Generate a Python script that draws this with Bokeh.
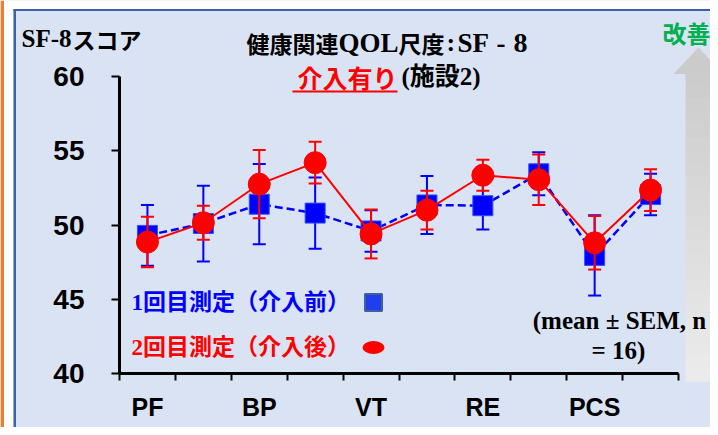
from bokeh.plotting import figure
from bokeh.models import Label, BoxAnnotation, PolyAnnotation, FixedTicker, ColumnDataSource
from bokeh.embed import file_html
from bokeh.resources import INLINE

# ---------------- data ----------------
categories = ["PF", "RP", "BP", "GH", "VT", "SF", "RE", "MH", "PCS", "MCS"]
tick_labels = ["PF", "", "BP", "", "VT", "", "RE", "", "PCS", ""]
pre_mean = [49.3, 50.1, 51.4, 50.8, 49.6, 51.35, 51.3, 53.45, 47.95, 52.05]
pre_sem = [2.05, 2.55, 2.7, 2.4, 1.4, 1.95, 1.6, 1.45, 2.7, 1.4]
post_mean = [48.85, 50.15, 52.75, 54.2, 49.4, 51.0, 53.35, 53.05, 48.8, 52.35]
post_sem = [1.7, 1.15, 2.3, 1.4, 1.65, 1.3, 1.05, 1.7, 1.8, 1.4]
y_ticks = [40, 45, 50, 55, 60]
pre_label = "1回目測定（介入前）"
post_label = "2回目測定（介入後）"

# ---------------- layout ----------------
W, H = 710, 427
# axis box (pixels inside the figure)
AL, AR, AT, AB = 119, 678, 76, 373
X0, X1, Y0, Y1 = 0.5, 10.5, 40, 60
SX = (X1 - X0) / (AR - AL)
SY = (Y1 - Y0) / (AB - AT)


def dx(px):
    return X0 + (px - AL) * SX


def dy(py):
    return Y1 - (py - AT) * SY


BG = "#DAE3F3"
BLUE = "#0000FF"
RED = "#FF0000"
SERIF = "Liberation Serif"
CJK = "Noto Sans CJK JP"
MIX = "'Liberation Serif', 'Noto Sans CJK JP'"

p = figure(width=W, height=H, x_range=(dx(0), dx(W)), y_range=(dy(H), dy(0)),
           output_backend="svg", toolbar_location=None, title=None, min_border=0)
p.background_fill_color = BG
p.border_fill_color = BG
p.outline_line_color = None
p.grid.visible = False

# axes (drawn at fixed data locations so the whole canvas is the frame)
xa = p.xaxis[0]
xa.fixed_location = Y0
xa.bounds = (X0, X1)
xa.ticker = FixedTicker(ticks=list(range(1, 11)),
                        minor_ticks=[i + 0.5 for i in range(0, 11)])
xa.major_label_overrides = {i + 1: t for i, t in enumerate(tick_labels)}
xa.major_tick_out = 0
xa.major_tick_in = 0
xa.minor_tick_out = 7
xa.minor_tick_in = 0
xa.minor_tick_line_width = 2
xa.minor_tick_line_color = "black"
xa.axis_line_width = 3
xa.axis_line_color = "black"
xa.major_label_text_font = "Liberation Sans"
xa.major_label_text_font_style = "bold"
xa.major_label_text_font_size = "25px"
xa.major_label_text_color = "black"
xa.major_label_standoff = 12

ya = p.yaxis[0]
ya.fixed_location = X0
ya.bounds = (Y0, Y1)
ya.ticker = FixedTicker(ticks=y_ticks)
ya.major_tick_out = 8
ya.major_tick_in = 0
ya.minor_tick_out = 0
ya.minor_tick_in = 0
ya.major_tick_line_width = 2
ya.major_tick_line_color = "black"
ya.axis_line_width = 3
ya.axis_line_color = "black"
ya.major_label_text_font = "Liberation Sans"
ya.major_label_text_font_style = "bold"
ya.major_label_text_font_size = "28px"
ya.major_label_text_color = "black"
ya.major_label_standoff = 27


def box(l, r, t, b, color):
    p.add_layout(BoxAnnotation(left=dx(l), right=dx(r), top=dy(t), bottom=dy(b),
                               fill_color=color, fill_alpha=1, line_alpha=0))


# page surroundings: orange strip, white margin, blue slide border
box(0, W, 0, 9, "white")
box(0, 13, 0, H, "white")
box(0, 3.5, 0, H, "#ED7D31")
box(13, 15.5, 8.5, H, "#3B62AD")
box(13, W, 8.5, 10.5, "#3B62AD")

# gray "improvement" arrow with vertical gradient
n_b = 24
top_y, bot_y = 73, 381
for i in range(n_b):
    t = i / (n_b - 1)
    g = int(round(0xCC + (0xEB - 0xCC) * t))
    col = "#%02x%02x%02x" % (g, g, g)
    y_a = top_y + (bot_y - top_y) * i / n_b
    y_b = top_y + (bot_y - top_y) * (i + 1) / n_b + 0.5
    box(685, 711, y_a, y_b, col)
p.add_layout(PolyAnnotation(xs=[dx(698), dx(673), dx(723)], ys=[dy(47), dy(73.5), dy(73.5)],
                            fill_color="#CBCBCB", fill_alpha=1, line_alpha=0))


def lab(text, px, py, size, color="black", align="left", font=MIX, style="bold"):
    p.add_layout(Label(x=dx(px), y=dy(py), text=text, text_font=font,
                       text_font_size=f"{size}px", text_font_style=style,
                       text_color=color, text_align=align, text_baseline="middle"))


# y-axis caption
lab("SF-8", 21, 38, 25, font=SERIF)
lab("スコア", 72, 38, 23, font=CJK)

# title line 1: 健康関連QOL尺度:SF-8
lab("健康関連", 246, 42, 23, font=CJK)
lab("QOL", 338, 42, 27, font=SERIF)
lab("尺度", 398, 42, 23, font=CJK)
lab(":", 446, 42, 26, font=SERIF)
lab("SF", 457, 42, 27, font=SERIF)
lab("-", 496, 42, 27, font=SERIF)
lab("8", 513, 42, 28, font=SERIF)

# title line 2: 介入有り(施設2)
lab("介入有り", 397, 76, 25, color=RED, align="right", font=CJK)
lab("(施設2)", 401, 76, 25, align="left")
box(292, 397, 90, 92, RED)
lab("改善", 662, 32, 24, color="#00B050", font=CJK)

# ---------------- data marks ----------------
x = list(range(1, len(categories) + 1))
src = ColumnDataSource(dict(
    x=x,
    pre=pre_mean, pre_lo=[m - s for m, s in zip(pre_mean, pre_sem)],
    pre_hi=[m + s for m, s in zip(pre_mean, pre_sem)],
    post=post_mean, post_lo=[m - s for m, s in zip(post_mean, post_sem)],
    post_hi=[m + s for m, s in zip(post_mean, post_sem)],
))

p.segment(x0="x", y0="pre_lo", x1="x", y1="pre_hi", source=src, line_color=BLUE, line_width=2)
p.scatter("x", "pre_lo", source=src, marker="dash", size=13, line_color=BLUE, line_width=2)
p.scatter("x", "pre_hi", source=src, marker="dash", size=13, line_color=BLUE, line_width=2)
p.line("x", "pre", source=src, line_color=BLUE, line_width=2.5, line_dash="8 4")
p.scatter("x", "pre", source=src, marker="square", size=20, fill_color=BLUE,
          line_color="#3050FF", line_width=1)

p.segment(x0="x", y0="post_lo", x1="x", y1="post_hi", source=src, line_color=RED, line_width=2)
p.scatter("x", "post_lo", source=src, marker="dash", size=13, line_color=RED, line_width=2)
p.scatter("x", "post_hi", source=src, marker="dash", size=13, line_color=RED, line_width=2)
p.line("x", "post", source=src, line_color=RED, line_width=2)
p.scatter("x", "post", source=src, marker="circle", size=22, fill_color=RED, line_color=RED)

# ---------------- legend (text then swatch) ----------------
lab(pre_label, 131, 302, 23, color=BLUE)
lab(post_label, 131, 347, 23, color=RED)
p.scatter([dx(373)], [dy(302)], marker="square", size=17, fill_color="#1F3FEF",
          line_color="#3F5F9F", line_width=2)
p.ellipse([dx(373)], [dy(347)], width=22, height=13, width_units="screen",
          height_units="screen", fill_color=RED, line_color=None)

# note
lab("(mean ± SEM, n", 619, 320, 25, align="center", font=SERIF)
lab("= 16)", 618, 350, 25, align="center", font=SERIF)

open("out.html", "w").write(file_html(p, INLINE))
